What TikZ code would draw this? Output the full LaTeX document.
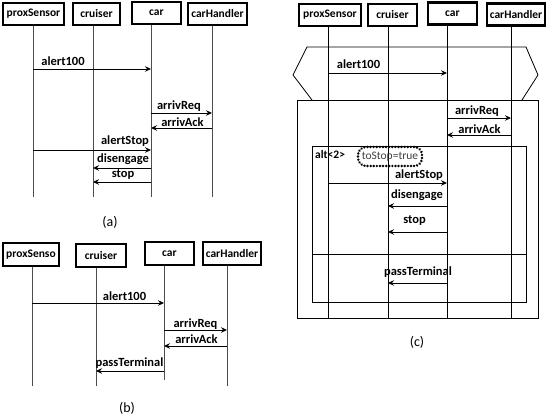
\documentclass[tikz,border=0pt]{standalone}
\usepackage{fontspec}
\setmainfont{Carlito}
\usetikzlibrary{arrows.meta}
\begin{document}
\begin{tikzpicture}[x=1pt,y=-1pt,
  obj/.style={draw,line width=2.2pt,font=\bfseries\fontsize{11.5}{13}\selectfont,inner sep=0pt,minimum height=22pt,anchor=center},
  life/.style={draw=black!70,line width=0.8pt},
  msg/.style={draw,line width=0.9pt,-{Stealth[length=6pt,width=5.5pt,inset=2pt]}},
  lbl/.style={font=\bfseries\fontsize{12.5}{14}\selectfont,inner sep=0pt},
  captxt/.style={font=\fontsize{14}{16}\selectfont,inner sep=0pt},
  frame/.style={draw,line width=0.8pt}]
\useasboundingbox (0,0) rectangle (550,419);
% ---------- (a)
\node[obj,minimum width=61pt] (aP) at (33.5,14) {proxSensor};
\node[obj,minimum width=47pt] (aC) at (96.5,14) {cruiser};
\node[obj,minimum width=49pt] (aR) at (156.5,13) {car};
\node[obj,minimum width=59pt] (aH) at (217.5,14) {carHandler};
\coordinate (aPe) at (33,197); \coordinate (aCe) at (93,197);
\coordinate (aRe) at (151,197); \coordinate (aHe) at (212,197);
\draw[life] (aPe |- aP.south) -- (aPe);
\draw[life] (aCe |- aC.south) -- (aCe);
\draw[life] (aRe |- aR.south) -- (aRe);
\draw[life] (aHe |- aH.south) -- (aHe);
\draw[msg] (aPe |- 0,69) -- (aRe |- 0,69);
\node[lbl] (aL1) at (63,61) {alert100};
\draw[msg] (aRe |- 0,113) -- (aHe |- 0,113);
\node[lbl] (aL2) at (179,106) {arrivReq};
\draw[msg] (aHe |- 0,128) -- (aRe |- 0,128);
\node[lbl] (aL3) at (182.5,122) {arrivAck};
\draw[msg] (aPe |- 0,150) -- (aRe |- 0,150);
\node[lbl] (aL4) at (125,141) {alertStop};
\draw[msg] (aRe |- 0,168) -- (aCe |- 0,168);
\node[lbl] (aL5) at (123,159) {disengage};
\draw[msg] (aRe |- 0,182) -- (aCe |- 0,182);
\node[lbl] (aL6) at (123,175) {stop};
\node[captxt] (capa) at (110,222) {(a)};
% ---------- (b)
\node[obj,minimum width=56pt,minimum height=23pt] (bP) at (31,254.5) {proxSenso};
\node[obj,minimum width=50pt,minimum height=23pt] (bC) at (101,255.5) {cruiser};
\node[obj,minimum width=49pt,minimum height=23pt] (bR) at (169.5,253.5) {car};
\node[obj,minimum width=58pt,minimum height=23pt] (bH) at (232,253.5) {carHandler};
\coordinate (bPe) at (32,386); \coordinate (bCe) at (96,386);
\coordinate (bRe) at (164,380); \coordinate (bHe) at (227,386);
\draw[life] (bPe |- bP.south) -- (bPe);
\draw[life] (bCe |- bC.south) -- (bCe);
\draw[life] (bRe |- bR.south) -- (bRe);
\draw[life] (bHe |- bH.south) -- (bHe);
\draw[msg] (bPe |- 0,303) -- (bRe |- 0,303);
\node[lbl] (bL1) at (124.5,296) {alert100};
\draw[msg] (bRe |- 0,330) -- (bHe |- 0,330);
\node[lbl] (bL2) at (195.5,324) {arrivReq};
\draw[msg] (bHe |- 0,346) -- (bRe |- 0,346);
\node[lbl] (bL3) at (196.5,339) {arrivAck};
\draw[msg] (bRe |- 0,371) -- (bCe |- 0,371);
\node[lbl] (bL4) at (129.5,363) {passTerminal};
\node[captxt] (capb) at (127,408) {(b)};
% ---------- (c)
\node[obj,minimum width=62pt] (cP) at (330,15) {proxSensor};
\node[obj,minimum width=49pt] (cC) at (392.5,15) {cruiser};
\node[obj,minimum width=49pt] (cR) at (452.5,13.5) {car};
\node[obj,minimum width=58pt] (cH) at (516,14.5) {carHandler};
\coordinate (cPe) at (328,318); \coordinate (cCe) at (388,318);
\coordinate (cRe) at (447,318); \coordinate (cHe) at (511,318);
\draw[life,draw=black] (cPe |- cP.south) -- (cPe);
\draw[life,draw=black] (cCe |- cC.south) -- (cCe);
\draw[life,draw=black] (cRe |- cR.south) -- (cRe);
\draw[life,draw=black] (cHe |- cH.south) -- (cHe);
% loop hexagon and frames
\draw[frame] (312,100) -- (293,75) -- (307,47) -- (526,47) -- (538,75) -- (522,100);
\draw[frame] (297,100) rectangle (538,318);
\draw[frame] (312,146) rectangle (526,302);
\draw[frame] (312,254) -- (526,254);
\node[lbl,anchor=west,font=\bfseries\fontsize{11.5}{13}\selectfont] (alt) at (315,155) {alt<2>};
\node[draw,dash pattern=on 0.1pt off 3pt,line cap=round,line width=2.6pt,rounded corners=8pt,
      minimum width=64pt,minimum height=19pt,inner sep=0pt,text=black!75,
      font=\fontsize{11.5}{13}\selectfont] (guard) at (390,156.5) {toStop=true};
\draw[msg] (cPe |- 0,73) -- (cRe |- 0,73);
\node[lbl] (cL1) at (358.5,64) {alert100};
\draw[msg] (cRe |- 0,118) -- (cHe |- 0,118);
\node[lbl] (cL2) at (477,111) {arrivReq};
\draw[msg] (cHe |- 0,135) -- (cRe |- 0,135);
\node[lbl] (cL3) at (479.5,129) {arrivAck};
\draw[msg] (cPe |- 0,183) -- (cRe |- 0,183);
\node[lbl] (cL4) at (419,175) {alertStop};
\draw[msg] (cRe |- 0,206) -- (cCe |- 0,206);
\node[lbl] (cL5) at (417,195) {disengage};
\draw[msg] (cRe |- 0,232) -- (cCe |- 0,232);
\node[lbl] (cL6) at (414.5,221) {stop};
\draw[msg] (cRe |- 0,283) -- (cCe |- 0,283);
\node[lbl] (cL7) at (418,272) {passTerminal};
\node[captxt] (capc) at (417,342) {(c)};
\end{tikzpicture}
\end{document}
